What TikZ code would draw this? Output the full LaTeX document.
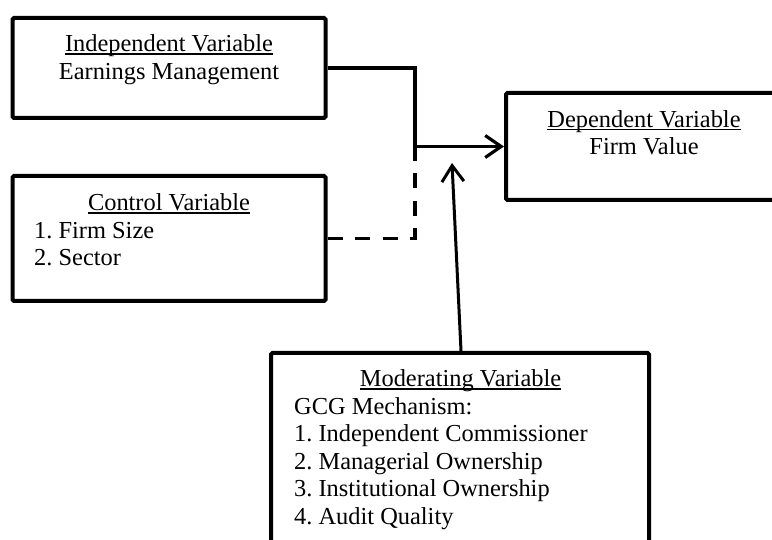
\documentclass[tikz,border=0pt]{standalone}
\usepackage{fontspec}
\setmainfont{Liberation Serif}
\usetikzlibrary{arrows.meta}
\frenchspacing
\newcommand\myul[1]{\setbox0\hbox{#1}\rlap{\rule[-2.6pt]{\wd0}{1.4pt}}\box0}
\begin{document}
\begin{tikzpicture}[x=1pt,y=-1pt,
  varbox/.style={draw, line width=4pt, inner sep=0pt, rounded corners=1.5pt},
  txt/.style={inner sep=0pt, font=\fontsize{24.4}{27.6}\selectfont\frenchspacing},
  link/.style={line width=3.2pt},
  tip/.style={-{Straight Barb[length=16pt,width=22pt]}}]
\useasboundingbox (0,0) rectangle (772,540);
\fill[white] (0,0) rectangle (772,540);
% boxes
\node[varbox, minimum width=313pt, minimum height=100pt] (ind) at (169,68) {};
\node[varbox, minimum width=313pt, minimum height=125pt] (ctl) at (169,238.5) {};
\node[varbox, minimum width=278pt, minimum height=107pt] (dep) at (645,146.5) {};
\node[varbox, minimum width=378pt, minimum height=214pt] (mod) at (460,460) {};
% texts
\node[txt, anchor=base] (indT) at (169,52) {\myul{Independent Variable}};
\node[txt, anchor=base] (indS) at (169,80) {Earnings Management};
\node[txt, anchor=base] (ctlT) at (169,211) {\myul{Control Variable}};
\node[txt, anchor=base west] (ctl1) at (34,238.5) {1. Firm Size};
\node[txt, anchor=base west] (ctl2) at (34,266) {2. Sector};
\node[txt, anchor=base] (depT) at (644,127.5) {\myul{Dependent Variable}};
\node[txt, anchor=base] (depS) at (644,155) {Firm Value};
\node[txt, anchor=base] (modT) at (460.5,387) {\myul{Moderating Variable}};
\node[txt, anchor=base west] (mod0) at (294,414) {GCG Mechanism:};
\node[txt, anchor=base west] (mod1) at (294,441.5) {1. Independent Commissioner};
\node[txt, anchor=base west] (mod2) at (294,469) {2. Managerial Ownership};
\node[txt, anchor=base west] (mod3) at (294,496.5) {3. Institutional Ownership};
\node[txt, anchor=base west] (mod4) at (294,524) {4. Audit Quality};
% connectors
\coordinate (j) at (415,146.5);
\coordinate (mtip) at (452,163);
\draw[link] (ind.east) -| (j);
\draw[link, tip] (j) -- (dep.west);
\draw[link, dash pattern=on 15pt off 12.5pt] (ctl.east) -| (j);
\draw[link, line width=3pt, tip] (mod.north) ++(1,0) coordinate (mstart) (mstart) -- (mtip);
\end{tikzpicture}
\end{document}
